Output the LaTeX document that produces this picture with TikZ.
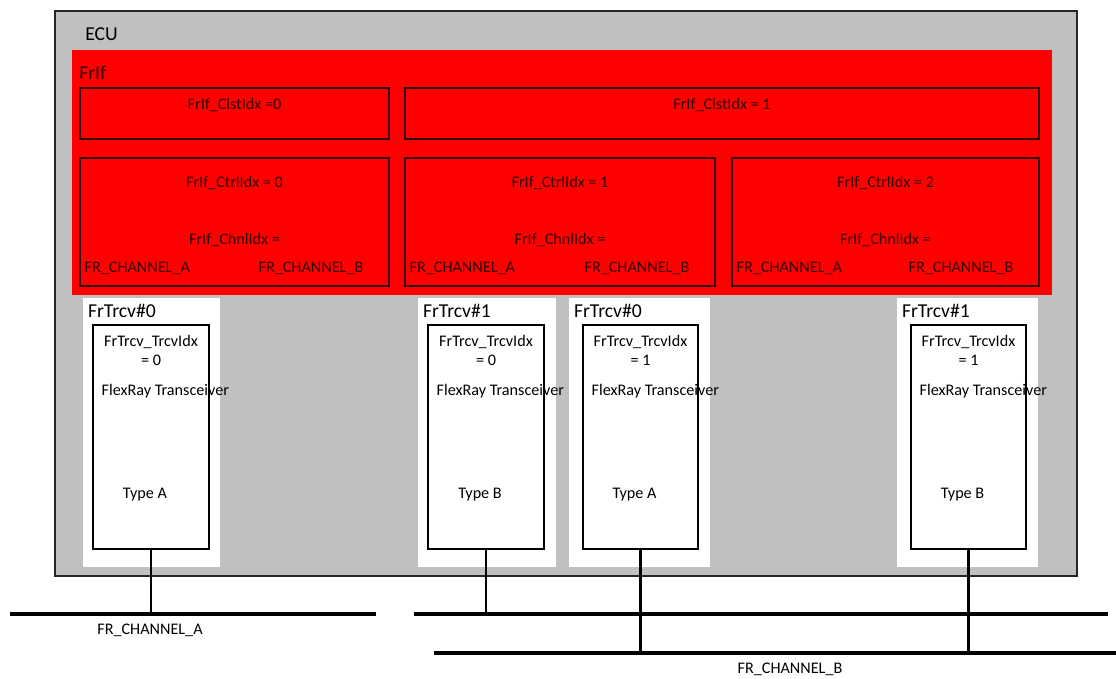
\documentclass[tikz,border=0pt]{standalone}
\usepackage{fontspec}
\setmainfont{Carlito}
\usetikzlibrary{positioning,fit,calc}
\definecolor{ecuGray}{RGB}{192,192,192}
\definecolor{frifRed}{RGB}{255,0,0}
\definecolor{frifInk}{RGB}{50,0,0}

\begin{document}
\begin{tikzpicture}[x=0.025cm, y=-0.025cm,
    ecubox/.style={draw=black!85, line width=1pt, fill=ecuGray, inner sep=0pt},
    frifbox/.style={fill=frifRed, inner sep=0pt},
    idxbox/.style={draw=frifInk, line width=0.9pt, inner sep=0pt},
    trcvpad/.style={fill=white, inner sep=0pt},
    trcvbox/.style={draw, line width=0.9pt, fill=white, inner sep=0pt},
    small/.style={font=\fontsize{11.5}{13}\selectfont, inner sep=0pt},
    redtxt/.style={small, text=frifInk},
    title/.style={font=\fontsize{14}{16}\selectfont, inner sep=0pt},
    bus/.style={line width=2.8pt},
    stub/.style={line width=1.6pt}
  ]
    \useasboundingbox (0,0) rectangle (1116,678);

    % ECU and FrIf
    \node[ecubox, fit={(55,11) (1077,576)}] (ecu) {};
    \node[title, anchor=west] (ecuLbl) at (85,34) {ECU};
    \node[frifbox, fit={(72,50) (1052,295)}] (frif) {};
    \node[title, anchor=west, text=frifInk] (frifLbl) at (79,73) {FrIf};

    % clusters
    \node[idxbox, fit={(80,88) (389,139)}] (clst0) {};
    \node[idxbox, fit={(405,88) (1039,139)}] (clst1) {};
    \node[redtxt] at ($(clst0.north)+(0,18)$) {FrIf\_ClstIdx =0};
    \node[redtxt] at ($(clst1.north)+(0,18)$) {FrIf\_ClstIdx = 1};

    % controllers
    \node[idxbox, fit={(80,158) (389,286)}] (ctrl0) {};
    \node[idxbox, fit={(405,158) (715,286)}] (ctrl1) {};
    \node[idxbox, fit={(732,158) (1039,286)}] (ctrl2) {};
    \foreach \c in {0,1,2} {
      \node[redtxt] at ($(ctrl\c.north)+(0,26)$) {FrIf\_CtrlIdx = \c};
      \node[redtxt] at ($(ctrl\c.north)+(0,83)$) {FrIf\_ChnlIdx =};
      \node[redtxt, anchor=west] at ($(ctrl\c.south west)+(5,-18)$) {FR\_CHANNEL\_A};
      \node[redtxt, anchor=east] at ($(ctrl\c.south east)+(-26,-18)$) {FR\_CHANNEL\_B};
    }

    % transceivers
    \node[trcvpad, fit={(83,298) (220,567)}] (pad0) {};
    \node[trcvpad, fit={(418,298) (556,567)}] (pad1) {};
    \node[trcvpad, fit={(569,298) (710,567)}] (pad2) {};
    \node[trcvpad, fit={(897,298) (1038,567)}] (pad3) {};
    \node[trcvbox, fit={(93,325) (209,549)}] (trcv0) {};
    \node[trcvbox, fit={(428,325) (544,549)}] (trcv1) {};
    \node[trcvbox, fit={(583,325) (698,549)}] (trcv2) {};
    \node[trcvbox, fit={(911,325) (1026,549)}] (trcv3) {};
    \foreach \t/\name/\idx/\type in {0/0/0/A, 1/1/0/B, 2/0/1/A, 3/1/1/B} {
      \node[title, anchor=west] at ($(pad\t.north west)+(5,13)$) {FrTrcv\#\name};
      \node[small] at ($(trcv\t.north)+(0,18)$) {FrTrcv\_TrcvIdx};
      \node[small] at ($(trcv\t.north)+(0,36)$) {= \idx};
      \node[small, anchor=west] at ($(trcv\t.north west)+(9,67)$) {FlexRay Transceiver};
      \node[small] at ($(trcv\t.north)+(-6,170)$) {Type \type};
    }

    % buses
    \coordinate (busA0) at (10,614);
    \coordinate (busA1) at (376,614);
    \coordinate (busA2) at (414,614);
    \coordinate (busA3) at (1108,614);
    \coordinate (busB0) at (434,653);
    \coordinate (busB1) at (1116,653);
    \draw[bus] (busA0) -- (busA1);
    \draw[bus] (busA2) -- (busA3);
    \draw[bus] (busB0) -- (busB1);
    \node[small] (chA) at (150,630) {FR\_CHANNEL\_A};
    \node[small] (chB) at (790,669) {FR\_CHANNEL\_B};

    \draw[stub] (trcv0.south) -- (trcv0.south |- busA0);
    \draw[stub] (trcv1.south) -- (trcv1.south |- busA2);
    \draw[stub] (trcv2.south) -- (trcv2.south |- busB0);
    \draw[stub] (trcv3.south) -- (trcv3.south |- busB0);
  \end{tikzpicture}
\end{document}
